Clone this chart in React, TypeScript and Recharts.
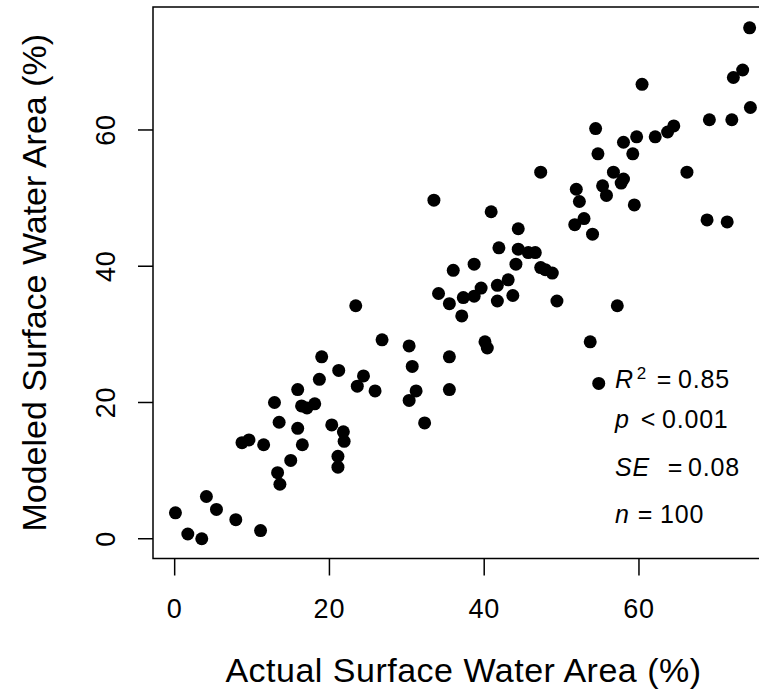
import React from 'react';
import { ScatterChart, Scatter, XAxis, YAxis, ReferenceArea } from 'recharts';

// values (%)
const ACTUAL = [
  74.3, 73.4, 72.2, 60.4, 74.4, 69.1, 72.0, 54.4, 64.5, 63.7,
  62.1, 59.7, 58.0, 54.7, 59.2, 47.3, 56.7, 66.2, 58.0, 57.7,
  51.9, 55.3, 55.8, 52.3, 33.5, 40.9, 59.4, 52.9, 51.7, 68.8,
  71.4, 44.4, 54.0, 41.9, 44.4, 45.7, 46.6, 38.7, 44.1, 36.0,
  47.3, 47.9, 48.8, 43.1, 41.7, 39.6, 38.7, 37.3, 34.1, 35.5,
  41.7, 43.7, 37.1, 49.4, 57.2, 23.4, 26.8, 30.3, 40.1, 40.4,
  53.7, 35.5, 19.0, 30.7, 21.2, 24.4, 23.6, 25.9, 18.7, 15.9,
  31.2, 30.3, 35.5, 54.8, 12.9, 16.4, 17.1, 18.1, 13.5, 15.9,
  20.3, 21.8, 21.9, 32.3, 8.7, 9.6, 11.5, 16.5, 21.1, 21.1,
  15.0, 13.3, 13.6, 4.1, 0.1, 5.4, 7.9, 1.7, 3.5, 11.1,
];
const MODELED = [
  75.0, 68.8, 67.7, 66.7, 63.3, 61.5, 61.5, 60.2, 60.6, 59.7,
  59.0, 59.0, 58.2, 56.5, 56.5, 53.8, 53.8, 53.8, 52.8, 52.2,
  51.3, 51.8, 50.4, 49.5, 49.7, 48.0, 49.0, 47.0, 46.1, 46.8,
  46.5, 45.5, 44.7, 42.7, 42.5, 42.0, 42.0, 40.3, 40.3, 39.4,
  39.8, 39.5, 39.0, 38.0, 37.2, 36.8, 35.6, 35.4, 36.0, 34.5,
  34.9, 35.7, 32.7, 34.9, 34.2, 34.2, 29.2, 28.3, 28.9, 28.0,
  28.9, 26.7, 26.7, 25.3, 24.7, 23.9, 22.4, 21.7, 23.4, 21.9,
  21.7, 20.3, 21.9, 22.8, 20.0, 19.5, 19.2, 19.8, 17.1, 16.2,
  16.7, 15.7, 14.3, 17.0, 14.1, 14.5, 13.8, 13.8, 12.1, 10.5,
  11.5, 9.7, 8.0, 6.2, 3.8, 4.3, 2.8, 0.7, 0.0, 1.2,
];
const X_TICKS = [0, 20, 40, 60];
const Y_TICKS = [0, 20, 40, 60];
const X_TITLE = 'Actual Surface Water Area (%)';
const Y_TITLE = 'Modeled Surface Water Area (%)';

// stats legend: variable, superscript, operator, value
const STAT_NAMES = ['R', 'p', 'SE', 'n'];
const STAT_SUPS = ['2', '', '', ''];
const STAT_OPS = ['=', '<', '=', '='];
const STAT_VALUES = ['0.85', '0.001', '0.08', '100'];

const X_DOMAIN: [number, number] = [-2.8, 77.45];
const Y_DOMAIN: [number, number] = [-2.9, 78.05];

const FONT = '"Liberation Sans", Arial, Helvetica, sans-serif';

const points = ACTUAL.map((a, i) => ({ actual: a, modeled: MODELED[i] }));

// where each stats line sits (baseline y, operator x, value x)
const STAT_LAYOUT = [
  { y: 388, opX: 664, valX: 678 },
  { y: 428, opX: 648, valX: 662 },
  { y: 476, opX: 675, valX: 688 },
  { y: 523, opX: 645, valX: 660 },
];

const XTick = (props: any) => {
  const { x, y, payload } = props;
  return (
    <text x={x} y={y + 42} textAnchor="middle" fontSize={27} fill="#000"
      fontFamily={FONT} letterSpacing={0.8}>
      {payload.value}
    </text>
  );
};

const YTick = (props: any) => {
  const { x, y, payload } = props;
  const bx = x - 23;
  return (
    <text x={bx} y={y} transform={`rotate(-90, ${bx}, ${y})`} textAnchor="middle"
      fontSize={27} fill="#000" fontFamily={FONT} letterSpacing={0.8}>
      {payload.value}
    </text>
  );
};

const Dot = (props: any) => <circle cx={props.cx} cy={props.cy} r={6.5} fill="#000" />;

export default function App() {
  return (
    <div style={{ position: 'absolute', left: 0, top: 0, width: 759, height: 694,
      overflow: 'hidden', background: '#fff' }}>
      <ScatterChart width={800} height={694} margin={{ top: 7, right: 26, bottom: 0, left: 0 }}>
        <XAxis
          type="number" dataKey="actual" domain={X_DOMAIN} ticks={X_TICKS}
          allowDataOverflow height={135.5} axisLine={false}
          tickSize={17} tickMargin={0} tickLine={{ stroke: '#000', strokeWidth: 1.5 }}
          tick={<XTick />}
          label={{
            content: (p: any) => {
              const vb = p.viewBox;
              return (
                <text x={vb.x + vb.width / 2} y={682} textAnchor="middle" fontSize={34}
                  fill="#000" fontFamily={FONT} letterSpacing={0.5}>
                  {X_TITLE}
                </text>
              );
            },
          }}
        />
        <YAxis
          type="number" dataKey="modeled" domain={Y_DOMAIN} ticks={Y_TICKS}
          allowDataOverflow width={153} axisLine={false}
          tickSize={15} tickMargin={0} tickLine={{ stroke: '#000', strokeWidth: 1.5 }}
          tick={<YTick />}
          label={{
            content: (p: any) => {
              const vb = p.viewBox;
              const cy = vb.y + vb.height / 2;
              return (
                <text x={46} y={cy} transform={`rotate(-90, 46, ${cy})`} textAnchor="middle"
                  fontSize={34} fill="#000" fontFamily={FONT}>
                  {Y_TITLE}
                </text>
              );
            },
          }}
        />
        <ReferenceArea x1={X_DOMAIN[0]} x2={X_DOMAIN[1]} y1={Y_DOMAIN[0]} y2={Y_DOMAIN[1]}
          fill="none" fillOpacity={0} stroke="#000" strokeWidth={1.5} strokeOpacity={1} />
        <Scatter data={points} shape={<Dot />} isAnimationActive={false} />
      </ScatterChart>
      <svg width={800} height={694} style={{ position: 'absolute', left: 0, top: 0, pointerEvents: 'none' }}>
        {STAT_NAMES.map((name, i) => {
          const l = STAT_LAYOUT[i];
          return (
            <g key={name} fontFamily={FONT} fill="#000">
              <text x={615} y={l.y} fontSize={25} fontStyle="italic" letterSpacing={0.8}>
                {name}
                {STAT_SUPS[i] && (
                  <tspan fontStyle="normal" fontSize={17} dx={3} dy={-9}>{STAT_SUPS[i]}</tspan>
                )}
              </text>
              <text x={l.opX} y={l.y} fontSize={25} textAnchor="middle">{STAT_OPS[i]}</text>
              <text x={l.valX} y={l.y} fontSize={25} letterSpacing={0.8}>{STAT_VALUES[i]}</text>
            </g>
          );
        })}
      </svg>
    </div>
  );
}
